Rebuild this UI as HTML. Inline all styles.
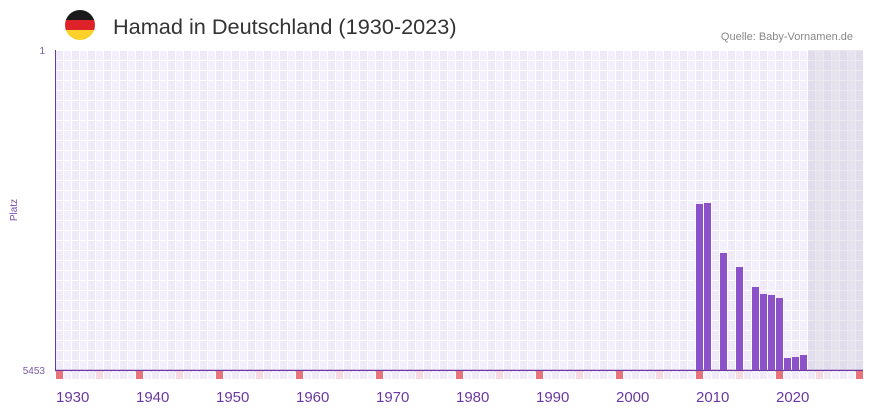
<!DOCTYPE html>
<html><head><meta charset="utf-8"><style>
body{margin:0;background:#fff;width:873px;height:412px;overflow:hidden;font-family:"Liberation Sans",sans-serif}
</style></head><body>
<svg width="873" height="412" xmlns="http://www.w3.org/2000/svg" style="position:absolute;left:0;top:0">
<defs>
<pattern id="g" x="56" y="50" width="16" height="10" patternUnits="userSpaceOnUse">
<rect width="16" height="10" fill="#fff"/>
<rect x="0" y="1" width="7" height="9" fill="#f0eaf8"/>
<rect x="8" y="1" width="7" height="9" fill="#f4f0fb"/>
</pattern>
<pattern id="h" x="56" y="50" width="16" height="10" patternUnits="userSpaceOnUse">
<rect width="16" height="10" fill="#ebe8ef"/>
<rect x="0" y="1" width="7" height="9" fill="#e2ddec"/>
<rect x="8" y="1" width="7" height="9" fill="#e6e2ee"/>
</pattern>
<clipPath id="fc"><circle cx="80" cy="25" r="15"/></clipPath>
</defs>
<g clip-path="url(#fc)">
<rect x="64" y="9" width="32" height="11" fill="#1a1a1a"/>
<rect x="64" y="20" width="32" height="10" fill="#dd2229"/>
<rect x="64" y="30" width="32" height="11" fill="#fcd22a"/>
</g>
<text x="113" y="34" font-size="21.7" fill="#333" font-family="Liberation Sans, sans-serif">Hamad in Deutschland (1930-2023)</text>
<text x="853" y="40" font-size="11" fill="#888" text-anchor="end">Quelle: Baby-Vornamen.de</text>
<rect x="56" y="50" width="807" height="320" fill="url(#g)"/>
<rect x="808" y="50" width="55" height="320" fill="url(#h)"/>
<line x1="55.5" y1="50" x2="55.5" y2="370" stroke="#6a3aa0" stroke-width="1"/>
<line x1="55" y1="370.5" x2="863" y2="370.5" stroke="#6a3aa0" stroke-width="1.5"/>
<text x="45" y="54" font-size="10" fill="#7a5aa8" text-anchor="end">1</text>
<text x="45" y="374" font-size="10" fill="#7a5aa8" text-anchor="end">5453</text>
<text x="17" y="210" font-size="10" fill="#7a4ab0" text-anchor="middle" transform="rotate(-90 17 210)">Platz</text>
<g fill="#8c52c8">
<rect x="696" y="204" width="7" height="166"/>
<rect x="704" y="203" width="7" height="167"/>
<rect x="720" y="253" width="7" height="117"/>
<rect x="736" y="267" width="7" height="103"/>
<rect x="752" y="287" width="7" height="83"/>
<rect x="760" y="294" width="7" height="76"/>
<rect x="768" y="295" width="7" height="75"/>
<rect x="776" y="298" width="7" height="72"/>
<rect x="784" y="358" width="7" height="12"/>
<rect x="792" y="357" width="7" height="13"/>
<rect x="800" y="355" width="7" height="15"/>
</g>
<g id="m"></g>
<g font-size="15" fill="#6a3aa0">
<text x="56" y="402">1930</text><text x="136" y="402">1940</text><text x="216" y="402">1950</text><text x="296" y="402">1960</text><text x="376" y="402">1970</text><text x="456" y="402">1980</text><text x="536" y="402">1990</text><text x="616" y="402">2000</text><text x="696" y="402">2010</text><text x="776" y="402">2020</text>
</g>
</svg>
<script>
var m=document.getElementById('m'),s='';
for(var y=1930;y<=2030;y++){var x=56+8*(y-1930);var c=(y%10==0)?'#e8737a':(y%5==0?'#f5d8e0':(y%2==0?'#f0eaf8':'#f4f0fb'));s+='<rect x="'+x+'" y="371" width="7" height="8" fill="'+c+'"/>';}
m.innerHTML=s;
</script>
</body></html>
